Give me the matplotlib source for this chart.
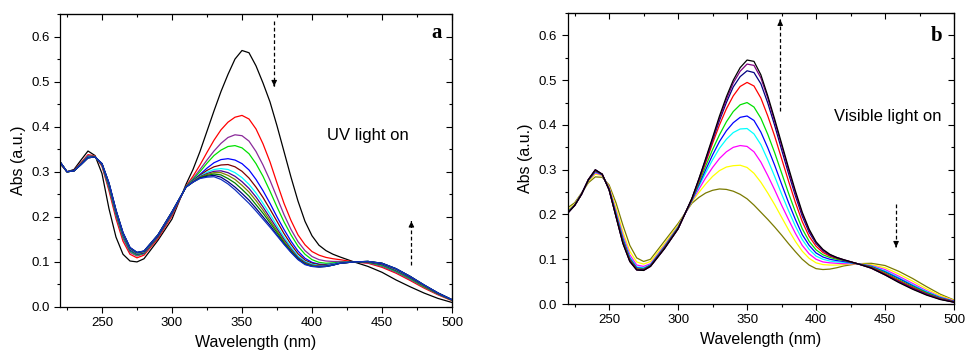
import matplotlib
matplotlib.use('Agg')
import matplotlib.pyplot as plt
from matplotlib.ticker import MultipleLocator

plt.rcParams['font.family'] = ['Liberation Sans', 'DejaVu Sans']

# wavelength grid (nm) shared by all spectra
wl = [220, 225, 230, 235, 240, 245, 250, 255, 260, 265, 270, 275, 280, 290, 300,
      310, 315, 320, 325, 330, 335, 340, 345, 350, 355, 360, 365, 370, 375, 380,
      385, 390, 395, 400, 405, 410, 415, 420,
      430, 440, 450, 460, 470, 480, 490, 500]

# panel a: UV light on (absorbance decreasing at 350 nm)
a_black = [0.318, 0.300, 0.305, 0.326, 0.346, 0.336, 0.296, 0.218, 0.155, 0.117, 0.102, 0.100, 0.107, 0.148, 0.195,
           0.272, 0.305, 0.345, 0.390, 0.435, 0.478, 0.516, 0.550, 0.569, 0.564, 0.535, 0.497, 0.455, 0.402, 0.345,
           0.288, 0.235, 0.190, 0.158, 0.137, 0.125, 0.117, 0.111,
           0.100, 0.090, 0.077, 0.060, 0.045, 0.031, 0.019, 0.010]
a_red = [0.320, 0.300, 0.303, 0.320, 0.338, 0.335, 0.312, 0.258, 0.196, 0.146, 0.117, 0.109, 0.115, 0.152, 0.202,
         0.268, 0.290, 0.315, 0.343, 0.370, 0.393, 0.410, 0.421, 0.425, 0.417, 0.395, 0.362, 0.322, 0.275, 0.230,
         0.192, 0.160, 0.138, 0.123, 0.115, 0.110, 0.107, 0.105,
         0.100, 0.097, 0.088, 0.075, 0.059, 0.042, 0.027, 0.014]
a_purple = [0.321, 0.300, 0.303, 0.319, 0.336, 0.334, 0.314, 0.263, 0.202, 0.152, 0.121, 0.113, 0.118, 0.155, 0.205,
            0.267, 0.285, 0.305, 0.326, 0.346, 0.363, 0.376, 0.382, 0.380, 0.368, 0.345, 0.315, 0.281, 0.243, 0.205,
            0.172, 0.145, 0.125, 0.112, 0.105, 0.102, 0.101, 0.101,
            0.100, 0.098, 0.090, 0.077, 0.061, 0.044, 0.028, 0.015]
a_green = [0.321, 0.300, 0.302, 0.318, 0.334, 0.334, 0.315, 0.266, 0.206, 0.156, 0.124, 0.115, 0.119, 0.156, 0.207,
           0.267, 0.283, 0.300, 0.319, 0.336, 0.348, 0.356, 0.358, 0.353, 0.340, 0.318, 0.290, 0.257, 0.222, 0.189,
           0.160, 0.135, 0.117, 0.105, 0.099, 0.097, 0.098, 0.099,
           0.100, 0.099, 0.092, 0.079, 0.063, 0.045, 0.029, 0.015]
a_blue = [0.322, 0.300, 0.302, 0.317, 0.333, 0.333, 0.316, 0.269, 0.209, 0.159, 0.126, 0.117, 0.120, 0.157, 0.208,
          0.266, 0.281, 0.294, 0.308, 0.320, 0.327, 0.329, 0.326, 0.318, 0.304, 0.283, 0.258, 0.230, 0.200, 0.172,
          0.146, 0.124, 0.108, 0.099, 0.095, 0.094, 0.096, 0.098,
          0.100, 0.100, 0.094, 0.081, 0.065, 0.047, 0.030, 0.016]
a_maroon = [0.322, 0.300, 0.302, 0.317, 0.332, 0.333, 0.317, 0.271, 0.211, 0.161, 0.128, 0.118, 0.121, 0.158, 0.209,
            0.266, 0.280, 0.292, 0.303, 0.311, 0.315, 0.316, 0.311, 0.301, 0.286, 0.266, 0.243, 0.217, 0.190, 0.163,
            0.139, 0.118, 0.104, 0.097, 0.094, 0.093, 0.095, 0.098,
            0.100, 0.100, 0.095, 0.082, 0.066, 0.047, 0.030, 0.016]
a_cyan = [0.322, 0.300, 0.302, 0.316, 0.332, 0.333, 0.317, 0.272, 0.212, 0.162, 0.129, 0.119, 0.122, 0.159, 0.210,
          0.266, 0.279, 0.290, 0.299, 0.305, 0.307, 0.305, 0.298, 0.287, 0.272, 0.253, 0.230, 0.206, 0.180, 0.155,
          0.133, 0.113, 0.101, 0.095, 0.092, 0.092, 0.095, 0.098,
          0.100, 0.101, 0.096, 0.083, 0.067, 0.048, 0.031, 0.016]
a_violet = [0.322, 0.300, 0.302, 0.316, 0.331, 0.333, 0.317, 0.273, 0.213, 0.163, 0.130, 0.120, 0.123, 0.159, 0.210,
            0.266, 0.278, 0.289, 0.296, 0.301, 0.302, 0.298, 0.290, 0.278, 0.263, 0.244, 0.222, 0.198, 0.174, 0.150,
            0.129, 0.110, 0.099, 0.093, 0.091, 0.091, 0.094, 0.097,
            0.100, 0.101, 0.096, 0.084, 0.067, 0.048, 0.031, 0.016]
a_olive = [0.322, 0.300, 0.302, 0.316, 0.331, 0.333, 0.318, 0.274, 0.214, 0.164, 0.131, 0.120, 0.123, 0.160, 0.211,
           0.266, 0.278, 0.288, 0.294, 0.298, 0.298, 0.292, 0.283, 0.270, 0.255, 0.236, 0.215, 0.192, 0.169, 0.146,
           0.126, 0.108, 0.097, 0.092, 0.090, 0.090, 0.093, 0.097,
           0.100, 0.101, 0.097, 0.084, 0.068, 0.048, 0.031, 0.016]
a_dkgreen = [0.322, 0.300, 0.302, 0.316, 0.331, 0.333, 0.318, 0.274, 0.214, 0.164, 0.131, 0.121, 0.124, 0.160, 0.211,
             0.266, 0.277, 0.287, 0.292, 0.295, 0.293, 0.285, 0.275, 0.261, 0.246, 0.227, 0.208, 0.187, 0.165, 0.143,
             0.124, 0.107, 0.096, 0.091, 0.089, 0.090, 0.093, 0.097,
             0.100, 0.101, 0.097, 0.085, 0.068, 0.049, 0.031, 0.016]
a_navy = [0.322, 0.300, 0.302, 0.316, 0.331, 0.333, 0.318, 0.275, 0.215, 0.165, 0.132, 0.121, 0.124, 0.160, 0.211,
          0.266, 0.277, 0.286, 0.290, 0.292, 0.288, 0.278, 0.266, 0.252, 0.237, 0.219, 0.200, 0.181, 0.160, 0.140,
          0.122, 0.106, 0.095, 0.090, 0.089, 0.090, 0.093, 0.097,
          0.100, 0.101, 0.097, 0.085, 0.068, 0.049, 0.031, 0.016]
a_final = [0.322, 0.300, 0.302, 0.316, 0.331, 0.333, 0.318, 0.275, 0.215, 0.165, 0.132, 0.121, 0.124, 0.160, 0.211,
           0.266, 0.277, 0.285, 0.288, 0.289, 0.283, 0.273, 0.260, 0.245, 0.230, 0.213, 0.195, 0.177, 0.158, 0.139,
           0.121, 0.105, 0.094, 0.090, 0.089, 0.090, 0.093, 0.097,
           0.100, 0.101, 0.097, 0.085, 0.068, 0.049, 0.031, 0.016]

# panel b: visible light on (absorbance recovering at 350 nm)
b_olive = [0.215, 0.226, 0.248, 0.271, 0.284, 0.283, 0.266, 0.226, 0.176, 0.131, 0.103, 0.095, 0.100, 0.140, 0.180,
           0.225, 0.238, 0.248, 0.254, 0.257, 0.256, 0.252, 0.245, 0.235, 0.221, 0.205, 0.189, 0.172, 0.154, 0.135,
           0.117, 0.100, 0.087, 0.079, 0.077, 0.078, 0.081, 0.085,
           0.090, 0.091, 0.086, 0.073, 0.057, 0.039, 0.022, 0.009]
b_yellow = [0.209, 0.223, 0.247, 0.274, 0.290, 0.287, 0.262, 0.215, 0.161, 0.118, 0.094, 0.089, 0.095, 0.134, 0.176,
            0.228, 0.249, 0.268, 0.285, 0.298, 0.306, 0.309, 0.310, 0.305, 0.292, 0.272, 0.248, 0.222, 0.194, 0.166,
            0.140, 0.118, 0.102, 0.092, 0.088, 0.087, 0.087, 0.088,
            0.090, 0.088, 0.081, 0.067, 0.051, 0.034, 0.019, 0.008]
b_magenta = [0.207, 0.221, 0.246, 0.276, 0.293, 0.288, 0.260, 0.208, 0.153, 0.110, 0.087, 0.084, 0.090, 0.130, 0.173,
             0.230, 0.256, 0.282, 0.305, 0.325, 0.340, 0.350, 0.354, 0.352, 0.340, 0.317, 0.287, 0.255, 0.221, 0.189,
             0.158, 0.131, 0.112, 0.100, 0.094, 0.092, 0.091, 0.090,
             0.090, 0.086, 0.077, 0.062, 0.046, 0.030, 0.016, 0.007]
b_cyan = [0.206, 0.221, 0.246, 0.277, 0.295, 0.289, 0.258, 0.204, 0.148, 0.105, 0.083, 0.081, 0.088, 0.128, 0.172,
          0.231, 0.262, 0.293, 0.322, 0.348, 0.368, 0.383, 0.391, 0.392, 0.380, 0.356, 0.322, 0.285, 0.246, 0.209,
          0.174, 0.144, 0.122, 0.107, 0.100, 0.096, 0.094, 0.093,
          0.090, 0.085, 0.074, 0.059, 0.043, 0.028, 0.015, 0.006]
b_blue = [0.205, 0.220, 0.246, 0.277, 0.296, 0.289, 0.257, 0.201, 0.145, 0.102, 0.081, 0.079, 0.087, 0.127, 0.171,
          0.232, 0.266, 0.300, 0.333, 0.363, 0.387, 0.405, 0.417, 0.420, 0.410, 0.384, 0.349, 0.310, 0.268, 0.227,
          0.189, 0.155, 0.131, 0.114, 0.105, 0.100, 0.097, 0.095,
          0.090, 0.084, 0.072, 0.057, 0.041, 0.026, 0.014, 0.006]
b_green = [0.205, 0.220, 0.245, 0.277, 0.297, 0.290, 0.256, 0.199, 0.142, 0.100, 0.079, 0.078, 0.086, 0.126, 0.170,
           0.233, 0.270, 0.308, 0.345, 0.378, 0.407, 0.430, 0.445, 0.450, 0.440, 0.415, 0.379, 0.338, 0.293, 0.248,
           0.206, 0.168, 0.140, 0.121, 0.110, 0.104, 0.100, 0.097,
           0.090, 0.083, 0.070, 0.054, 0.039, 0.025, 0.013, 0.005]
b_red = [0.204, 0.220, 0.245, 0.278, 0.298, 0.290, 0.256, 0.197, 0.139, 0.098, 0.078, 0.077, 0.085, 0.125, 0.169,
         0.234, 0.274, 0.316, 0.359, 0.400, 0.436, 0.465, 0.486, 0.495, 0.487, 0.460, 0.420, 0.375, 0.325, 0.275,
         0.227, 0.184, 0.151, 0.129, 0.115, 0.107, 0.102, 0.098,
         0.090, 0.082, 0.068, 0.052, 0.037, 0.023, 0.012, 0.005]
b_navy = [0.203, 0.220, 0.245, 0.278, 0.299, 0.290, 0.255, 0.196, 0.137, 0.096, 0.077, 0.076, 0.085, 0.124, 0.168,
          0.235, 0.277, 0.321, 0.366, 0.410, 0.450, 0.485, 0.508, 0.521, 0.517, 0.492, 0.449, 0.399, 0.345, 0.292,
          0.242, 0.196, 0.160, 0.135, 0.119, 0.109, 0.103, 0.098,
          0.090, 0.081, 0.066, 0.050, 0.035, 0.022, 0.011, 0.004]
b_purple = [0.203, 0.220, 0.245, 0.278, 0.300, 0.290, 0.255, 0.195, 0.136, 0.095, 0.076, 0.075, 0.084, 0.123, 0.168,
            0.235, 0.278, 0.323, 0.369, 0.415, 0.457, 0.494, 0.520, 0.536, 0.533, 0.505, 0.460, 0.408, 0.354, 0.300,
            0.248, 0.201, 0.164, 0.137, 0.120, 0.110, 0.104, 0.099,
            0.090, 0.080, 0.065, 0.049, 0.034, 0.021, 0.011, 0.004]
b_black = [0.203, 0.220, 0.245, 0.278, 0.300, 0.290, 0.255, 0.195, 0.135, 0.095, 0.076, 0.075, 0.084, 0.123, 0.168,
           0.236, 0.279, 0.325, 0.372, 0.420, 0.463, 0.500, 0.528, 0.545, 0.542, 0.512, 0.465, 0.413, 0.359, 0.305,
           0.253, 0.205, 0.167, 0.139, 0.122, 0.111, 0.104, 0.099,
           0.090, 0.080, 0.065, 0.048, 0.033, 0.020, 0.010, 0.004]

series_a = [(a_black, '#000000'), (a_red, '#ff0000'), (a_purple, '#8a2a9a'), (a_green, '#00e000'),
            (a_blue, '#0000ff'), (a_maroon, '#800000'), (a_cyan, '#00ffff'), (a_violet, '#4b0090'),
            (a_olive, '#808000'), (a_dkgreen, '#008000'), (a_navy, '#000080'), (a_final, '#1030c0')]
series_b = [(b_olive, '#7a7a00'), (b_yellow, '#ffff00'), (b_magenta, '#ff00ff'), (b_cyan, '#00ffff'),
            (b_blue, '#0000ff'), (b_green, '#00e000'), (b_red, '#ff0000'), (b_navy, '#000080'),
            (b_purple, '#800080'), (b_black, '#000000')]


def style_axes(ax):
    ax.set_xlim(220, 500)
    ax.set_ylim(0, 0.65)
    ax.set_xticks([250, 300, 350, 400, 450, 500])
    ax.set_yticks([0.0, 0.1, 0.2, 0.3, 0.4, 0.5, 0.6])
    ax.xaxis.set_minor_locator(MultipleLocator(25))
    ax.yaxis.set_minor_locator(MultipleLocator(0.05))
    ax.tick_params(which='both', direction='out', labelsize=9.5, width=0.8)
    ax.tick_params(which='major', length=4)
    ax.tick_params(which='minor', length=2.5)
    for s in ax.spines.values():
        s.set_linewidth(0.9)
    top = ax.secondary_xaxis('top')
    top.set_xticks([250, 300, 350, 400, 450, 500])
    top.xaxis.set_minor_locator(MultipleLocator(25))
    top.tick_params(which='both', direction='in', labeltop=False, width=0.8)
    top.tick_params(which='major', length=4)
    top.tick_params(which='minor', length=2.5)
    right = ax.secondary_yaxis('right')
    right.set_yticks([0.0, 0.1, 0.2, 0.3, 0.4, 0.5, 0.6])
    right.yaxis.set_minor_locator(MultipleLocator(0.05))
    right.tick_params(which='both', direction='in', labelright=False, width=0.8)
    right.tick_params(which='major', length=4)
    right.tick_params(which='minor', length=2.5)
    ax.set_xlabel('Wavelength (nm)', fontsize=11.5, labelpad=4)
    ax.set_ylabel('Abs (a.u.)', fontsize=11.5, labelpad=4)


def dashed_arrow(ax, x, y0, y1):
    ax.plot([x, x], [y0, y1], color='black', lw=0.9, ls=(0, (3, 2)))
    ax.annotate('', xy=(x, y1), xytext=(x, y1 - 0.001 if y1 > y0 else y1 + 0.001),
                arrowprops=dict(arrowstyle='-|>', color='black', lw=0.8, mutation_scale=8,
                                shrinkA=0, shrinkB=0))


fig = plt.figure(figsize=(9.66, 3.54), dpi=100)
ax1 = fig.add_axes([0.0621, 0.1328, 0.4058, 0.8277])
ax2 = fig.add_axes([0.5877, 0.1412, 0.3999, 0.8220])

for y, c in series_a:
    ax1.plot(wl, y, color=c, lw=0.9)
for y, c in series_b:
    ax2.plot(wl, y, color=c, lw=0.9)

style_axes(ax1)
style_axes(ax2)

ax1.text(411, 0.38, 'UV light on', fontsize=12, va='center')
ax1.text(489, 0.607, 'a', fontsize=15, fontweight='bold', family='Liberation Serif', ha='center', va='center')
dashed_arrow(ax1, 373, 0.635, 0.49)
dashed_arrow(ax1, 471, 0.093, 0.19)

ax2.text(413, 0.418, 'Visible light on', fontsize=12, va='center')
ax2.text(487.5, 0.598, 'b', fontsize=15, fontweight='bold', family='Liberation Serif', ha='center', va='center')
dashed_arrow(ax2, 374, 0.432, 0.635)
dashed_arrow(ax2, 458, 0.224, 0.127)

fig.savefig('out.png', dpi=100)
